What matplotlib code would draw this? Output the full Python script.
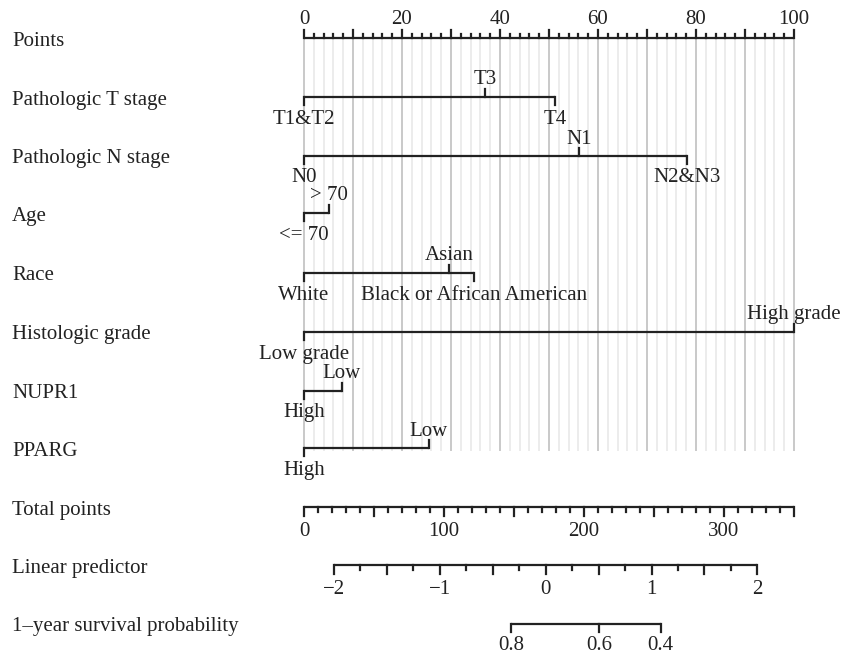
import numpy as np
import matplotlib
matplotlib.use("Agg")
from matplotlib import pyplot as plt

# ------------------------------------------------------------
# Nomogram data
# ------------------------------------------------------------
row_names = ["Points", "Pathologic T stage", "Pathologic N stage", "Age", "Race",
             "Histologic grade", "NUPR1", "PPARG", "Total points",
             "Linear predictor", "1\u2013year survival probability"]

t_stage_labels = ["T1&T2", "T3", "T4"]
t_stage_points = [0, 36.9, 51.2]
n_stage_labels = ["N0", "N1", "N2&N3"]
n_stage_points = [0, 56.1, 78.1]
age_labels = ["<= 70", "> 70"]
age_points = [0, 5.1]
race_labels = ["White", "Asian", "Black or African American"]
race_points = [0, 29.6, 34.7]
grade_labels = ["Low grade", "High grade"]
grade_points = [0, 100]
nupr1_labels = ["High", "Low"]
nupr1_points = [0, 7.7]
pparg_labels = ["High", "Low"]
pparg_points = [0, 25.5]

# label placement for each level: -1 below the line, +1 above
t_stage_side = [-1, 1, -1]
n_stage_side = [-1, 1, -1]
age_side = [-1, 1]
race_side = [-1, 1, -1]
grade_side = [-1, 1]
nupr1_side = [-1, 1]
pparg_side = [-1, 1]

total_max = 350
lp_ticks = [-2, -1, 0, 1, 2]
lp_intercept = -2.2835      # linear predictor at 0 total points
lp_slope = 0.013228         # per total point
log_s0 = -0.309             # log of baseline 1-year survival
surv_ticks = [0.8, 0.6, 0.4]

# ------------------------------------------------------------
# Figure: one axes covering everything, x in "points" units
# ------------------------------------------------------------
W, H = 845, 656
x0_px, x100_px = 304, 794
ppx = (x100_px - x0_px) / 100.0

fig = plt.figure(figsize=(W / 100, H / 100), dpi=100)
ax = fig.add_axes([0, 0, 1, 1])
ax.set_xlim(-x0_px / ppx, (W - x0_px) / ppx)
ax.set_ylim(H, 0)
ax.axis("off")

plt.rcParams["font.family"] = ["Liberation Serif", "DejaVu Serif"]
fs = 15
lw = 1.6
col = "#222222"

row_y = [38, 97, 156, 213, 273, 332, 391, 448, 507, 565, 624]

for name, y in zip(row_names, row_y):
    ax.text(-x0_px / ppx + 12 / ppx, y + 3, name, fontsize=fs, va="center", ha="left", color=col)

# vertical grid
for p in np.arange(0, 101, 2):
    c = "#c9c9c9" if p % 10 == 0 else "#ececec"
    ax.plot([p, p], [row_y[0], 450], color=c, lw=1.4, zorder=0)

# points scale (ticks up, labels above)
y = row_y[0]
ax.plot([0, 100], [y, y], color=col, lw=lw, solid_capstyle="butt")
for p in np.arange(0, 101, 2):
    h = 8 if p % 10 == 0 else 4
    ax.plot([p, p], [y, y - h], color=col, lw=lw)
for p in range(0, 101, 20):
    ax.text(p, y - 18, str(p), fontsize=fs, ha="center", va="center", color=col)


def draw_factor(y, labels, pts, sides):
    ax.plot([min(pts), max(pts)], [y, y], color=col, lw=lw, solid_capstyle="butt")
    for lab, p, s in zip(labels, pts, sides):
        ax.plot([p, p], [y, y - 8 * s], color=col, lw=lw)
        off = -17 if s > 0 else 22
        ax.text(p, y + off, lab, fontsize=fs, ha="center", va="center", color=col)


draw_factor(row_y[1], t_stage_labels, t_stage_points, t_stage_side)
draw_factor(row_y[2], n_stage_labels, n_stage_points, n_stage_side)
draw_factor(row_y[3], age_labels, age_points, age_side)
draw_factor(row_y[4], race_labels, race_points, race_side)
draw_factor(row_y[5], grade_labels, grade_points, grade_side)
draw_factor(row_y[6], nupr1_labels, nupr1_points, nupr1_side)
draw_factor(row_y[7], pparg_labels, pparg_points, pparg_side)


def tot2x(t):
    return np.asarray(t) * 100.0 / total_max


def lp2tot(lp):
    return (np.asarray(lp) - lp_intercept) / lp_slope


def surv2lp(s):
    return np.log(np.log(np.asarray(s)) / log_s0)


# total points
y = row_y[8]
ax.plot([0, 100], [y, y], color=col, lw=lw, solid_capstyle="butt")
for t in range(0, total_max + 1, 10):
    h = 9 if t % 50 == 0 else 5
    ax.plot([tot2x(t)] * 2, [y, y + h], color=col, lw=lw)
for t in range(0, total_max, 100):
    ax.text(tot2x(t), y + 25, str(t), fontsize=fs, ha="center", va="center", color=col)

# linear predictor
y = row_y[9]
lx = tot2x(lp2tot([lp_ticks[0], lp_ticks[-1]]))
ax.plot(lx, [y, y], color=col, lw=lw, solid_capstyle="butt")
for v in np.arange(lp_ticks[0], lp_ticks[-1] + 0.01, 0.25):
    h = 9 if abs(v * 2 - round(v * 2)) < 1e-9 else 5
    ax.plot([tot2x(lp2tot(v))] * 2, [y, y + h], color=col, lw=lw)
for v in lp_ticks:
    ax.text(tot2x(lp2tot(v)), y + 25, f"{v}".replace("-", "\u2212"), fontsize=fs,
            ha="center", va="center", color=col)

# survival probability
y = row_y[10]
sx = tot2x(lp2tot(surv2lp(surv_ticks)))
ax.plot([sx.min(), sx.max()], [y, y], color=col, lw=lw, solid_capstyle="butt")
for s, xx in zip(surv_ticks, sx):
    ax.plot([xx, xx], [y, y + 8], color=col, lw=lw)
    ax.text(xx, y + 21, f"{s:.1f}", fontsize=fs, ha="center", va="center", color=col)

fig.savefig("out.png", dpi=100)
